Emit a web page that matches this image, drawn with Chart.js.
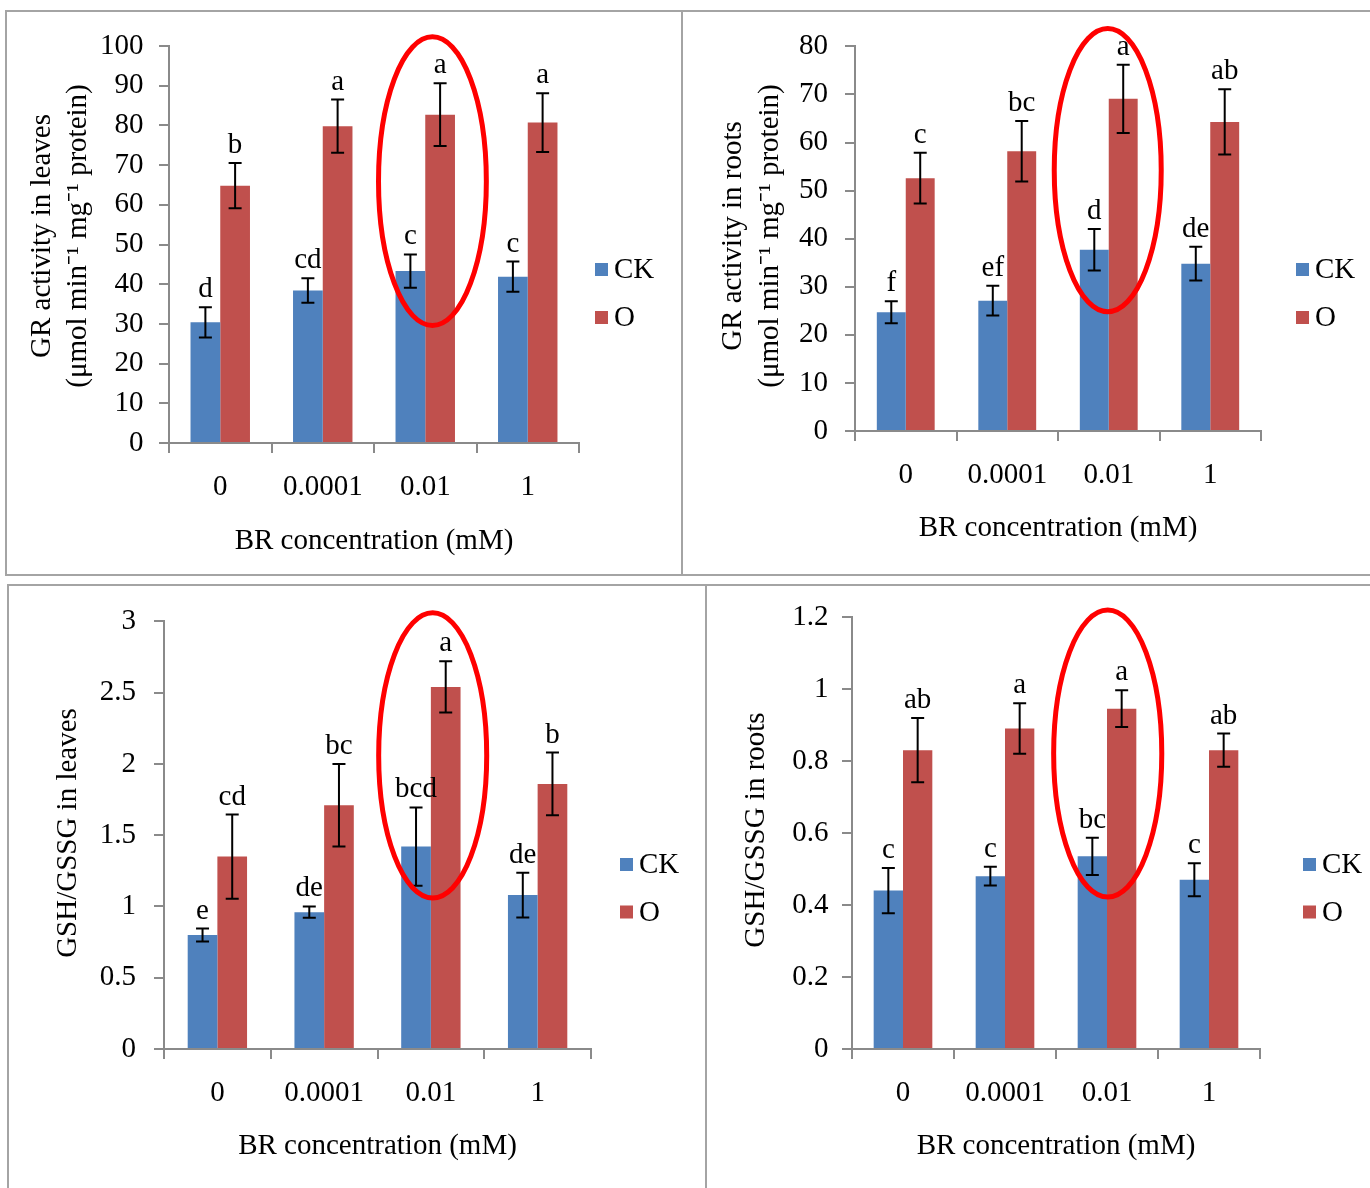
<!DOCTYPE html>
<html><head><meta charset="utf-8">
<script src="https://cdn.jsdelivr.net/npm/chart.js@4.4.1/dist/chart.umd.min.js"></script>
<style>
html,body{margin:0;padding:0;background:#fff;}
body{width:1370px;height:1188px;position:relative;overflow:hidden;}
.line{position:absolute;background:#a4a4a4;}
.panel{position:absolute;}
canvas{display:block;}
</style></head><body>
<div class="line" style="left:5px;top:10px;width:1365px;height:2px"></div>
<div class="line" style="left:5px;top:10px;width:2px;height:566px"></div>
<div class="line" style="left:681px;top:10px;width:2px;height:566px"></div>
<div class="line" style="left:5px;top:574px;width:1365px;height:2px"></div>
<div class="line" style="left:7px;top:584px;width:1363px;height:2px"></div>
<div class="line" style="left:7px;top:584px;width:2px;height:604px"></div>
<div class="line" style="left:705px;top:584px;width:2px;height:604px"></div>
<script>
// ---------- data ----------
const categories = ['0', '0.0001', '0.01', '1'];
const seriesNames = ['CK', 'O'];

// GR activity in leaves
const grLeavesCK = [30.4, 38.4, 43.3, 41.9];
const grLeavesCKErr = [3.8, 3.1, 4.2, 3.8];
const grLeavesO = [64.8, 79.8, 82.7, 80.7];
const grLeavesOErr = [5.7, 6.7, 7.9, 7.4];
const grLeavesCKLetters = ['d', 'cd', 'c', 'c'];
const grLeavesOLetters = ['b', 'a', 'a', 'a'];
const grLeavesTicks = [0, 10, 20, 30, 40, 50, 60, 70, 80, 90, 100];

// GR activity in roots
const grRootsCK = [24.7, 27.1, 37.7, 34.8];
const grRootsCKErr = [2.3, 3.1, 4.3, 3.5];
const grRootsO = [52.6, 58.2, 69.1, 64.3];
const grRootsOErr = [5.3, 6.3, 7.1, 6.8];
const grRootsCKLetters = ['f', 'ef', 'd', 'de'];
const grRootsOLetters = ['c', 'bc', 'a', 'ab'];
const grRootsTicks = [0, 10, 20, 30, 40, 50, 60, 70, 80];

// GSH/GSSG in leaves
const gshLeavesCK = [0.80, 0.96, 1.42, 1.08];
const gshLeavesCKErr = [0.045, 0.04, 0.275, 0.157];
const gshLeavesO = [1.35, 1.71, 2.54, 1.86];
const gshLeavesOErr = [0.295, 0.29, 0.18, 0.22];
const gshLeavesCKLetters = ['e', 'de', 'bcd', 'de'];
const gshLeavesOLetters = ['cd', 'bc', 'a', 'b'];
const gshLeavesTicks = [0, 0.5, 1, 1.5, 2, 2.5, 3];

// GSH/GSSG in roots
const gshRootsCK = [0.44, 0.48, 0.535, 0.47];
const gshRootsCKErr = [0.063, 0.026, 0.052, 0.046];
const gshRootsO = [0.83, 0.89, 0.945, 0.83];
const gshRootsOErr = [0.089, 0.07, 0.051, 0.046];
const gshRootsCKLetters = ['c', 'c', 'bc', 'c'];
const gshRootsOLetters = ['ab', 'a', 'a', 'ab'];
const gshRootsTicks = [0, 0.2, 0.4, 0.6, 0.8, 1, 1.2];

// highlighted group (red ellipse) per panel: value range covered
const grLeavesHighlight = [29.6, 102.3];
const grRootsHighlight = [24.8, 83.7];
const gshLeavesHighlight = [1.06, 3.06];
const gshRootsHighlight = [0.422, 1.219];

// ---------- rendering ----------
const FONT = '"Liberation Serif", "Times New Roman", serif';
const AXIS = '#8a8a8a';

const decor = {
  id: 'decor',
  afterDatasetsDraw(chart, args, o) {
    const ctx = chart.ctx, ys = chart.scales.y, xs = chart.scales.x;
    ctx.save();
    // error bars + letters
    ctx.font = '29px ' + FONT;
    ctx.textAlign = 'center';
    ctx.textBaseline = 'alphabetic';
    ctx.fillStyle = '#000';
    chart.data.datasets.forEach((ds, di) => {
      chart.getDatasetMeta(di).data.forEach((bar, i) => {
        const v = ds.data[i], e = ds.errors[i];
        const t = ys.getPixelForValue(v + e), b = ys.getPixelForValue(v - e), cx = bar.x;
        ctx.strokeStyle = '#000'; ctx.lineWidth = 2;
        ctx.beginPath();
        ctx.moveTo(cx, t); ctx.lineTo(cx, b);
        ctx.moveTo(cx - 6.5, t); ctx.lineTo(cx + 6.5, t);
        ctx.moveTo(cx - 6.5, b); ctx.lineTo(cx + 6.5, b);
        ctx.stroke();
        ctx.fillText(ds.letters[i], cx, t - 10);
      });
    });
    // red ellipse
    const hl = o.highlight;
    const cw = xs.getPixelForValue(1) - xs.getPixelForValue(0);
    const ex = xs.getPixelForValue(hl.index) + hl.shift * cw;
    const rx = hl.half * cw;
    const y1 = ys.getPixelForValue(hl.range[1]), y2 = ys.getPixelForValue(hl.range[0]);
    ctx.strokeStyle = '#FF0000'; ctx.lineWidth = 5;
    ctx.beginPath();
    ctx.ellipse(ex, (y1 + y2) / 2, rx, (y2 - y1) / 2, 0, 0, Math.PI * 2);
    ctx.stroke();
    // legend
    const lg = o.legend;
    ctx.textAlign = 'left'; ctx.textBaseline = 'middle';
    chart.data.datasets.forEach((ds, di) => {
      const cy = lg.y[di];
      ctx.fillStyle = ds.backgroundColor;
      ctx.fillRect(lg.x, cy - 6.5, 13, 13);
      ctx.fillStyle = '#000';
      ctx.fillText(ds.label, lg.x + 19, cy + 1);
    });
    // y title
    const yt = o.ytitle;
    ctx.textAlign = 'center'; ctx.textBaseline = 'middle';
    yt.lines.forEach((line, k) => {
      ctx.save();
      ctx.translate(yt.x[k], yt.y);
      ctx.rotate(-Math.PI / 2);
      ctx.fillText(line, 0, 0);
      ctx.restore();
    });
    ctx.restore();
  }
};

function makePanel(p) {
  const div = document.createElement('div');
  div.className = 'panel';
  Object.assign(div.style, {left: p.box.left + 'px', top: p.box.top + 'px', width: p.box.width + 'px', height: p.box.height + 'px'});
  const cv = document.createElement('canvas');
  cv.width = p.box.width; cv.height = p.box.height;
  div.appendChild(cv);
  document.body.appendChild(div);
  const bx = p.box, ar = p.area;
  new Chart(cv, {
    type: 'bar',
    data: {
      labels: categories,
      datasets: [
        {label: seriesNames[0], data: p.ck, errors: p.ckErr, letters: p.ckLetters, backgroundColor: '#4F81BD',
         barPercentage: 1, categoryPercentage: p.cat, borderWidth: 0},
        {label: seriesNames[1], data: p.o, errors: p.oErr, letters: p.oLetters, backgroundColor: '#C0504D',
         barPercentage: 1, categoryPercentage: p.cat, borderWidth: 0}
      ]
    },
    options: {
      responsive: false, animation: false, events: [],
      layout: {padding: {top: ar.top - bx.top, right: bx.left + bx.width - ar.right, left: 0, bottom: 0}},
      plugins: {
        legend: {display: false}, tooltip: {enabled: false},
        decor: {highlight: p.highlight, legend: p.legend, ytitle: p.ytitle}
      },
      scales: {
        x: {
          grid: {display: true, drawOnChartArea: false, offset: true, tickLength: 10, color: AXIS, lineWidth: 2},
          border: {color: AXIS, width: 2},
          ticks: {font: {family: FONT, size: 29}, color: '#000', padding: 17},
          title: {display: true, text: 'BR concentration (mM)', font: {family: FONT, size: 29}, color: '#000',
                  padding: {top: 0, bottom: p.xtitlePad}},
          afterFit: s => { s.height = bx.top + bx.height - ar.bottom; }
        },
        y: {
          min: 0, max: p.ticks[p.ticks.length - 1],
          grid: {display: true, drawOnChartArea: false, tickLength: 10, color: AXIS, lineWidth: 2},
          border: {color: AXIS, width: 2},
          ticks: {font: {family: FONT, size: 29}, color: '#000', padding: p.ytickPad,
                  callback: v => String(Math.round(v * 100) / 100)},
          afterBuildTicks: s => { s.ticks = p.ticks.map(v => ({value: v})); },
          afterFit: s => { s.width = ar.left - bx.left; }
        }
      }
    },
    plugins: [decor]
  });
}

makePanel({
  box: {left: 8, top: 12, width: 673, height: 562},
  area: {left: 169, top: 46, right: 579, bottom: 443},
  ck: grLeavesCK, ckErr: grLeavesCKErr, o: grLeavesO, oErr: grLeavesOErr,
  ckLetters: grLeavesCKLetters, oLetters: grLeavesOLetters, ticks: grLeavesTicks, cat: 0.58,
  highlight: {index: 2, shift: 0.07, half: 0.526, range: grLeavesHighlight},
  legend: {x: 587, y: [257.5, 305.5]},
  ytitle: {lines: ['GR activity in leaves', '(\u03bcmol min\u207b\u00b9 mg\u207b\u00b9 protein)'], x: [34, 70], y: 224},
  xtitlePad: 15.6, ytickPad: 15.6
});
makePanel({
  box: {left: 684, top: 12, width: 686, height: 562},
  area: {left: 855, top: 40, right: 1261, bottom: 431},
  ck: grRootsCK, ckErr: grRootsCKErr, o: grRootsO, oErr: grRootsOErr,
  ckLetters: grRootsCKLetters, oLetters: grRootsOLetters, ticks: grRootsTicks, cat: 0.57,
  highlight: {index: 2, shift: -0.01, half: 0.527, range: grRootsHighlight},
  legend: {x: 612, y: [257.5, 305.5]},
  ytitle: {lines: ['GR activity in roots', '(\u03bcmol min\u207b\u00b9 mg\u207b\u00b9 protein)'], x: [49, 86], y: 224},
  xtitlePad: 28.6, ytickPad: 17
});
makePanel({
  box: {left: 9, top: 586, width: 696, height: 602},
  area: {left: 164, top: 616, right: 591, bottom: 1049},
  ck: gshLeavesCK, ckErr: gshLeavesCKErr, o: gshLeavesO, oErr: gshLeavesOErr,
  ckLetters: gshLeavesCKLetters, oLetters: gshLeavesOLetters, ticks: gshLeavesTicks, cat: 0.556,
  highlight: {index: 2, shift: 0.017, half: 0.506, range: gshLeavesHighlight},
  legend: {x: 611, y: [278.5, 326]},
  ytitle: {lines: ['GSH/GSSG in leaves'], x: [59], y: 247},
  xtitlePad: 24.1, ytickPad: 18
});
makePanel({
  box: {left: 708, top: 586, width: 662, height: 602},
  area: {left: 852, top: 614, right: 1260, bottom: 1049},
  ck: gshRootsCK, ckErr: gshRootsCKErr, o: gshRootsO, oErr: gshRootsOErr,
  ckLetters: gshRootsCKLetters, oLetters: gshRootsOLetters, ticks: gshRootsTicks, cat: 0.575,
  highlight: {index: 2, shift: 0.007, half: 0.53, range: gshRootsHighlight},
  legend: {x: 595, y: [278.5, 326]},
  ytitle: {lines: ['GSH/GSSG in roots'], x: [48], y: 244},
  xtitlePad: 24.6, ytickPad: 13.5
});
</script>
</body></html>
